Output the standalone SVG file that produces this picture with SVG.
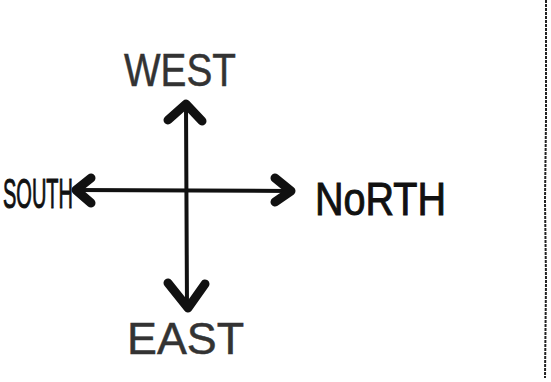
<svg xmlns="http://www.w3.org/2000/svg" width="551" height="382" viewBox="0 0 551 382">
  <style>
    .lbl { font-family: "Liberation Sans", Arial, sans-serif; fill: #111; stroke: #111; stroke-width: 1; }
    .light { fill: #333; stroke: #333; stroke-width: 0.5; }
    .shaft { stroke: #111; stroke-width: 4; fill: none; stroke-linecap: round; }
    .head { stroke: #111; stroke-width: 9; fill: none; stroke-linecap: round; stroke-linejoin: round; }
    .border { stroke: #222; stroke-width: 2; fill: none; stroke-dasharray: 3 1; }
  </style>
  <rect width="551" height="382" fill="#fff"/>
  <g id="connectors">
    <line class="shaft" x1="186" y1="106" x2="187" y2="308"/>
    <line class="shaft" x1="76" y1="190" x2="290" y2="191"/>
    <path class="head" d="M168,120 L186,104 L202,121"/>
    <path class="head" d="M168,283 L188,308 L205,284"/>
    <path class="head" d="M275,178 L291,191 L275,202"/>
    <path class="head" d="M91,178 L76,190 L91,203"/>
  </g>
  <g id="west">
    <text class="lbl light" x="124" y="86" font-size="46" textLength="112" lengthAdjust="spacingAndGlyphs">WEST</text>
  </g>
  <g id="south">
    <text class="lbl" x="3" y="208" font-size="42" textLength="70" lengthAdjust="spacingAndGlyphs">SOUTH</text>
  </g>
  <g id="north">
    <text class="lbl" x="315" y="215" font-size="46" textLength="131" lengthAdjust="spacingAndGlyphs">NoRTH</text>
  </g>
  <g id="east">
    <text class="lbl light" x="127" y="354" font-size="44" textLength="117" lengthAdjust="spacingAndGlyphs">EAST</text>
  </g>
  <path class="border" d="M546,0 L546,120 L545,200 L546,280 L545,378"/>
</svg>
